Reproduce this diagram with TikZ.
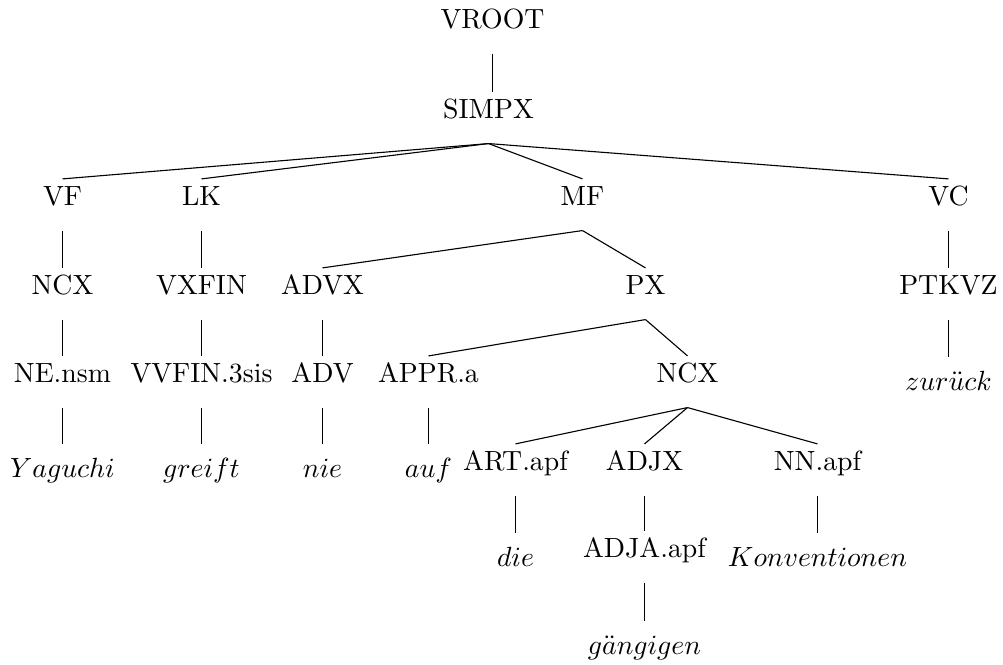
\documentclass[tikz,border=0pt]{standalone}
\begin{document}
\begin{tikzpicture}[x=0.36pt,y=-0.36pt,
  cat/.style={anchor=base, inner sep=0pt, text height=9.2pt, text depth=9pt},
  word/.style={anchor=north, inner sep=0pt, text height=11.9pt, text depth=0pt},
  branch/.style={draw=black, line width=0.4pt}]
\useasboundingbox (0,0) rectangle (1003,664);

\begin{scope}[xshift=0.18pt]
% phrase and tag nodes
\node[cat] (vroot) at (492,28) {VROOT};
\node[cat] (simpx) at (488,118) {SIMPX};
\node[cat] (vf) at (62,205) {VF};
\node[cat] (lk) at (201,205) {LK};
\node[cat] (mf) at (582,205) {MF};
\node[cat] (vc) at (948,205) {VC};
\node[cat] (ncxa) at (62,294) {NCX};
\node[cat] (vxfin) at (201,294) {VXFIN};
\node[cat] (advx) at (322,294) {ADVX};
\node[cat] (px) at (645,294) {PX};
\node[cat] (ptkvz) at (948,294) {PTKVZ};
\node[cat] (ne) at (62,382) {NE.nsm};
\node[cat] (vvfin) at (201,382) {VVFIN.3sis};
\node[cat] (adv) at (322,382) {ADV};
\node[cat] (appr) at (428,382) {APPR.a};
\node[cat] (ncxb) at (687,382) {NCX};
\node[cat] (art) at (515,470) {ART.apf};
\node[cat] (adjx) at (644,470) {ADJX};
\node[cat] (nn) at (817,470) {NN.apf};
\node[cat] (adja) at (644,557) {ADJA.apf};

% words
\node[word] (w1) at (62,444) {$Yaguchi$};
\node[word] (w2) at (201,444) {$greift$};
\node[word] (w3) at (322,444) {$nie$};
\node[word] (w4) at (428,444) {$auf$};
\node[word] (w5) at (515,533) {$die$};
\node[word] (w6) at (644,621) {$g\ddot{a}ngigen$};
\node[word] (w7) at (817,533) {$Konventionen$};
\node[word] (w8) at (948,357) {$zur\ddot{u}ck$};

% branches
\draw[branch] (vroot.south) -- (vroot.south |- simpx.north);
\foreach \c in {vf,lk,mf,vc} \draw[branch] (simpx.south) -- (\c.north);
\draw[branch] (vf.south) -- (ncxa.north);
\draw[branch] (lk.south) -- (vxfin.north);
\draw[branch] (mf.south) -- (advx.north);
\draw[branch] (mf.south) -- (px.north);
\draw[branch] (vc.south) -- (ptkvz.north);
\draw[branch] (ncxa.south) -- (ne.north);
\draw[branch] (vxfin.south) -- (vvfin.north);
\draw[branch] (advx.south) -- (adv.north);
\draw[branch] (px.south) -- (appr.north);
\draw[branch] (px.south) -- (ncxb.north);
\draw[branch] (ptkvz.south) -- (w8.north);
\draw[branch] (ne.south) -- (w1.north);
\draw[branch] (vvfin.south) -- (w2.north);
\draw[branch] (adv.south) -- (w3.north);
\draw[branch] (appr.south) -- (w4.north);
\foreach \c in {art,adjx,nn} \draw[branch] (ncxb.south) -- (\c.north);
\draw[branch] (art.south) -- (w5.north);
\draw[branch] (adjx.south) -- (adja.north);
\draw[branch] (nn.south) -- (w7.north);
\draw[branch] (adja.south) -- (w6.north);
\end{scope}
\end{tikzpicture}
\end{document}
